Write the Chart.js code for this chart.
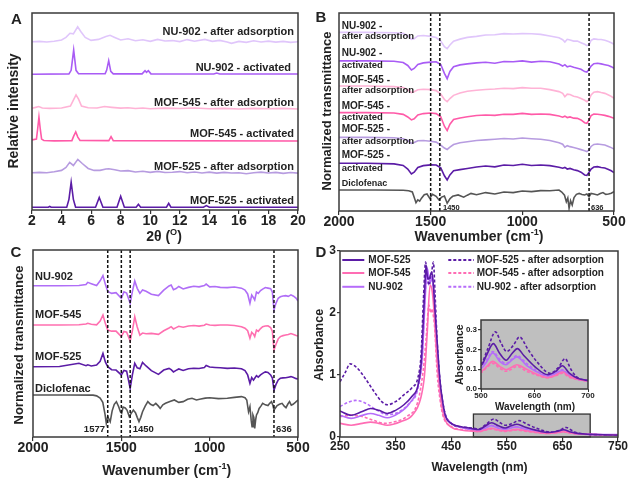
<!DOCTYPE html>
<html lang="en">
<head>
  <meta charset="UTF-8" />
  <title>MOF adsorption - PXRD, IR and UV-vis</title>
  <script src="https://cdn.jsdelivr.net/npm/chart.js"></script>
  <style>
    body { margin: 0; background: #fff; }
    #wrap { position: relative; width: 628px; height: 479px; overflow: hidden; }
    canvas { position: absolute; left: 0; top: 0; }
  </style>
</head>
<body>
<div id="wrap">
  <canvas id="chartA" width="628" height="479"></canvas>
  <canvas id="chartB" width="628" height="479"></canvas>
  <canvas id="chartC" width="628" height="479"></canvas>
  <canvas id="chartD" width="628" height="479"></canvas>
  <canvas id="chartInset" width="628" height="479"></canvas>
</div>

<script>
  // ---- A: PXRD (2theta, intensity above each trace's baseline) ----
  const aOffsets = { m525: 1.4, m525ads: 18.6, m545: 35, m545ads: 51.3, nu902: 68.9, nu902ads: 85.1 };

  const aM525X = [2,3.1,3.2,3.3,4.35,4.5,4.65,4.8,4.95,6.3,6.55,6.8,7.75,8.0,8.25,9.05,9.2,9.35,11.1,11.25,11.4,13.6,13.8,14.0,20];
  const aM525Y = [0,0,0.4,0,0,4,12.7,4,0,0,4.9,0,0,5.6,0,0,1.5,0,0,2,0,0,0.8,0,0];

  const aM525adsX = [2,2.5,3,3.5,4,4.3,4.55,4.8,5.1,5.4,5.8,6.2,6.6,7,7.2,7.6,8,8.5,9,9.5,10,10.5,11,11.5,12,12.5,13,13.5,14,14.5,15,15.5,16,16.5,17,17.5,18,18.5,19,19.5,20];
  const aM525adsY = [0.3,0.5,0.3,0.8,1.5,3,5.6,4.0,7.1,5,2.5,1.5,1.5,2.2,2.3,1.8,1.2,1.4,0.7,1.1,0.5,1,0.4,0.6,0.9,0.3,0.7,0.2,0.6,0.1,0.5,0.2,0.3,-0.2,0.3,0.6,0.2,0.5,0,0.4,0.1];

  const aM545X = [2,2.3,2.38,2.47,2.56,2.65,2.8,3.5,4.7,4.82,4.96,5.1,5.25,7.2,7.35,7.5,20];
  const aM545Y = [0.6,1,6,12.2,6,1,0.3,0.1,0.2,2.5,4.6,2,0.3,0.2,2.2,0.2,0];

  const aM545adsX = [2,2.25,2.45,2.7,3.2,4,4.6,4.8,4.98,5.15,5.35,5.8,6.4,6.9,7.4,8,8.5,9,9.5,10,11,12,13,14,15,16,17,18,19,20];
  const aM545adsY = [0.3,0.8,1.2,0.5,0.3,0.5,1.5,4.5,7.1,5,1.5,0.6,0.5,1.2,0.8,0.4,0.6,0.2,0.5,0.1,0.4,0.2,0.5,0.1,0.3,0,0.3,0.1,0.3,0];

  const aNu902X = [2,4.5,4.65,4.82,4.98,5.15,6.95,7.05,7.19,7.33,7.5,9.45,9.65,9.75,9.87,10.05,14.3,14.5,14.7,20];
  const aNu902Y = [0,0.2,2,12.3,2,0.3,0.3,2,6.9,1.5,0.2,0.2,1.8,1.0,1.8,0.2,0.1,0.6,0.1,0.1];

  const aNu902adsX = [2,2.5,3,3.5,4,4.3,4.57,4.8,5.09,5.3,5.6,6,6.5,7,7.28,7.6,8,8.5,9,9.5,10,10.5,11,11.5,12,12.5,13,13.7,14.2,14.7,15.2,15.5,16,16.5,17,17.5,18,18.5,19,19.5,20];
  const aNu902adsY = [0.3,0.5,0.2,0.6,1.2,2.5,4.6,4.3,7.9,5.5,2.5,1,1.5,3,3.6,2.5,1.2,1.8,0.8,1.3,0.5,1.5,0.7,0.9,0.4,1.4,0.6,1.5,0.5,1,0.2,-0.5,0.5,0,0.8,0.2,0.6,0.1,0.5,0,0.3];

  // ---- B: IR, MOFs before/after adsorption ----
  const bX = [2000,1850,1700,1650,1625,1605,1590,1570,1540,1500,1470,1445,1425,1410,1395,1375,1340,1300,1250,1200,1150,1100,1050,1000,950,900,850,800,780,768,755,740,720,700,680,660,648,636,625,610,590,570,550,530,515,500];
  const bNu902ads = [90.2,90.2,90.0,89.7,88.5,86.7,87.0,88.4,88.6,88.2,87.6,85.8,83.0,82.0,83.8,85.8,86.8,87.7,88.2,88.9,89.0,89.6,89.4,89.6,89.5,89.2,88.4,87.5,86.5,85.3,86.7,86.4,85.8,85.8,85.0,84.2,83.5,84.0,86.2,86.9,86.7,86.6,86.2,85.6,85.0,84.2];
  const bNu902 = [75.8,75.8,75.6,75.0,73.5,71.2,72.0,74.0,74.8,75.2,75.4,74.0,69.5,66.8,70.5,72.9,73.8,74.3,74.8,75.1,74.6,75.5,75.4,75.8,75.2,75.6,75.4,74.2,73.2,73.9,72.8,73.2,72.6,72.1,71.6,70.4,70.2,71.6,73.2,74.4,74.6,74.3,73.9,73.5,72.9,72.1];
  const bM545ads = [63.1,63.1,62.8,62.4,61.3,59.8,60.2,61.2,61.5,61.3,60.8,59.0,56.3,55.2,56.8,58.4,59.6,60.5,61.0,61.4,61.6,62.0,61.8,62.3,62.0,62.0,61.3,60.3,59.4,57.7,59.0,58.8,58.0,57.6,56.8,55.9,55.2,56.2,58.6,60.0,60.3,59.8,59.4,58.6,57.9,56.9];
  const bM545 = [49.7,49.7,49.5,48.8,47.5,46.0,46.6,48.5,49.2,49.5,49.2,47.6,42.8,40.6,43.8,46.2,47.0,47.6,48.2,48.5,48.3,48.9,48.8,49.3,48.8,49.0,48.8,48.0,47.4,47.9,47.2,47.5,46.9,46.8,46.0,44.6,44.3,46.0,48.2,49.0,48.9,48.6,48.3,47.8,47.3,46.8];
  const bM525ads = [37.2,37.2,37.0,36.5,35.6,34.2,34.6,35.5,35.6,35.2,34.8,33.3,31.8,31.1,32.3,33.6,34.5,35.0,35.6,35.9,36.2,36.6,36.4,36.9,36.5,36.2,35.6,34.5,33.7,32.2,33.0,32.5,32.1,31.6,31.0,30.4,30.0,30.8,32.6,33.6,33.8,33.6,33.3,32.6,32.0,31.3];
  const bM525 = [24.1,24.1,23.8,23.0,21.2,18.7,19.6,22.0,22.9,23.3,23.2,21.8,17.8,15.7,18.2,20.3,20.9,21.5,22.2,22.7,22.3,23.2,23.0,23.6,23.0,23.2,22.9,22.1,21.6,22.0,21.2,21.5,20.8,20.4,19.6,18.2,18.0,19.6,21.2,22.2,22.4,22.0,21.7,21.0,20.3,19.4];
  const bDicloX = [2000,1800,1650,1620,1600,1590,1580,1570,1560,1550,1535,1520,1505,1490,1470,1455,1440,1425,1410,1395,1380,1350,1320,1300,1280,1250,1200,1150,1100,1050,1000,950,900,850,800,785,770,760,752,745,737,728,718,705,690,675,660,648,636,625,610,590,575,560,545,530,515,500];
  const bDicloY = [10.6,10.6,10.5,10.2,9.6,7.0,4.2,5.6,5.0,6.5,8.2,8.6,6.4,8.4,7.4,5.6,7.0,7.6,3.9,6.2,7.4,8.1,7.0,8.0,8.9,8.2,9.3,8.6,9.6,9.3,10.1,9.8,10.3,10.2,10.6,9.6,8.0,4.7,6.6,1.4,5.2,3.0,6.8,8.4,8.9,8.3,8.1,8.6,7.2,8.9,8.6,8.1,8.8,9.3,8.4,8.6,9.0,9.8];
  const bMarks = [1500, 1450, 636];

  // ---- C: IR, MOFs after adsorption vs diclofenac ----
  const cX = [2000,1850,1740,1700,1690,1670,1640,1620,1604,1590,1577,1555,1530,1500,1485,1470,1450,1437,1424,1410,1395,1380,1360,1330,1290,1260,1230,1218,1205,1190,1175,1150,1120,1090,1060,1030,1020,1000,970,940,900,860,820,800,785,772,762,752,745,735,725,712,700,685,670,655,645,636,625,612,600,585,570,555,540,525,510,500];
  const cNu902 = [80.9,80.9,81.0,81.5,82.7,82.0,81.0,83.5,86.3,81.5,77.8,76.8,77.2,74.2,77.6,77.0,71.5,78.0,83.4,79.5,76.8,78.6,77.9,76.3,75.6,78.5,80.8,81.3,78.8,79.4,80.5,79.2,80.0,80.6,80.3,81.0,81.8,80.3,80.5,80.0,79.9,80.2,79.6,78.6,76.5,71.5,75.9,74.5,73.3,77.5,76.8,78.3,79.1,79.9,79.6,79.3,77.5,67.9,71.5,74.2,75.0,75.4,75.6,75.2,76.0,75.3,74.2,72.7];
  const cM545 = [59.9,59.9,60.0,60.4,60.8,60.3,60.0,62.0,65.2,60.5,57.2,56.6,56.6,53.7,56.4,56.0,51.3,57.0,64.3,58.8,54.5,55.6,55.2,55.4,54.9,56.8,58.3,59.0,57.8,58.5,59.2,58.7,59.4,59.6,59.3,59.8,60.4,59.9,59.7,59.9,59.9,59.6,59.0,58.2,56.8,52.8,56.0,55.0,53.7,57.2,56.5,58.0,59.0,59.4,59.5,58.5,56.5,46.5,49.5,52.5,53.7,54.2,54.5,54.8,55.3,54.8,54.3,54.0];
  const cM525 = [37.6,37.7,39.4,38.1,38.6,38.0,38.5,40.5,44.7,40.0,37.6,36.0,35.8,33.2,35.6,35.2,26.0,33.5,39.4,37.0,36.5,39.9,38.0,35.5,33.5,35.8,36.7,36.0,34.8,35.6,36.4,35.6,36.5,36.8,36.6,37.2,38.2,37.4,37.2,37.0,36.7,36.9,36.5,35.5,33.2,28.7,31.8,30.4,31.4,32.8,32.0,33.2,34.0,34.8,34.5,33.2,31.5,25.1,28.0,30.5,31.4,31.6,31.7,32.0,32.3,31.8,31.2,31.0];
  const cDicloX = [2000,1800,1660,1640,1620,1605,1592,1585,1577,1570,1563,1552,1540,1528,1515,1505,1498,1490,1478,1468,1455,1445,1432,1420,1410,1400,1390,1380,1365,1350,1335,1320,1305,1290,1280,1265,1250,1225,1200,1175,1150,1125,1100,1075,1050,1025,1000,950,900,860,820,800,790,780,772,765,760,755,750,745,740,735,728,720,710,700,685,670,660,650,642,636,628,618,605,590,578,568,558,548,538,528,515,500];
  const cDicloY = [22.5,22.5,22.4,22.0,20.8,18.5,12.0,7.3,10.9,9.5,8.2,14.0,17.5,18.9,16.2,13.5,12.7,16.0,15.5,14.4,10.9,12.5,14.4,13.0,10.5,8.2,10.5,13.5,16.5,18.9,17.5,16.8,18.0,16.5,15.3,17.2,18.0,19.0,19.8,18.5,18.9,20.2,20.7,19.8,20.3,20.8,21.0,20.5,20.7,21.2,21.6,21.0,19.8,13.5,16.2,9.0,5.5,11.8,10.5,4.6,9.0,11.8,13.0,15.3,16.5,18.0,17.2,16.8,18.0,18.9,17.0,14.4,15.5,16.8,17.5,18.0,16.5,15.7,17.5,18.9,17.0,17.5,18.5,19.8];
  const cMarks = [1577, 1500, 1450, 636];

  // ---- D: UV-vis absorbance ----
  const d525X = [250,270,290,305,320,335,350,365,380,390,396,400,403,405,407,410,413,415,418,421,425,430,435,440,450,460,470,480,490,500,510,523,535,547,558,568,580,600,625,640,652,665,680,700,725,750];
  const d525Y = [0.42,0.35,0.41,0.46,0.43,0.38,0.43,0.52,0.66,0.82,1.2,1.9,2.5,2.77,2.6,2.55,2.62,2.66,2.45,2.02,1.5,0.89,0.55,0.33,0.22,0.18,0.16,0.15,0.13,0.12,0.17,0.23,0.18,0.146,0.18,0.205,0.17,0.115,0.072,0.09,0.118,0.08,0.055,0.043,0.035,0.03];
  const d545X = [250,270,290,305,320,335,360,380,395,402,407,412,416,420,424,428,433,438,450,470,490,500,511,522,535,547,557,567,585,600,625,640,652,665,680,700,725,750];
  const d545Y = [0.22,0.19,0.22,0.24,0.22,0.19,0.25,0.35,0.62,1.0,1.7,2.45,2.34,1.91,1.3,0.89,0.5,0.3,0.16,0.11,0.095,0.09,0.115,0.14,0.115,0.098,0.11,0.123,0.1,0.08,0.058,0.07,0.086,0.065,0.05,0.042,0.035,0.03];
  const d902X = [250,270,290,305,320,335,355,375,390,398,403,407,410,413,416,419,422,426,432,440,450,465,480,500,511,522,535,547,557,567,585,600,625,640,652,665,680,700,725,750];
  const d902Y = [0.35,0.3,0.35,0.38,0.35,0.31,0.38,0.54,0.81,1.3,2.2,2.72,2.55,2.5,2.6,2.3,1.9,1.2,0.6,0.33,0.22,0.16,0.13,0.105,0.14,0.183,0.14,0.123,0.145,0.163,0.12,0.094,0.065,0.08,0.093,0.068,0.05,0.042,0.04,0.04];
  const d525adsX = [250,260,268,280,295,310,325,335,350,365,380,390,396,400,404,407,410,414,418,421,425,430,435,440,450,460,470,480,490,500,512,527,538,548,560,572,588,604,629,645,657,668,678,700,725,750];
  const d525adsY = [0.89,1.05,1.18,1.12,0.95,0.75,0.57,0.52,0.57,0.68,0.8,0.95,1.35,2.2,2.82,2.6,2.45,2.6,2.82,2.3,1.5,0.9,0.55,0.35,0.22,0.17,0.16,0.15,0.14,0.13,0.2,0.29,0.23,0.19,0.22,0.264,0.2,0.14,0.08,0.11,0.154,0.1,0.063,0.043,0.035,0.03];
  const d545adsX = [250,270,290,310,330,350,370,390,400,405,410,413,415,418,420,425,430,435,450,470,490,500,511,522,535,547,557,567,585,600,625,640,652,665,680,700,725,750];
  const d545adsY = [0.33,0.35,0.33,0.27,0.22,0.25,0.33,0.57,1.1,1.6,2.13,2.0,2.07,1.95,1.8,1.0,0.6,0.35,0.17,0.12,0.1,0.085,0.11,0.13,0.105,0.09,0.1,0.115,0.09,0.075,0.057,0.068,0.08,0.06,0.048,0.04,0.035,0.03];
  const d902adsX = [250,265,278,295,315,335,355,375,390,398,403,407,410,414,418,421,426,432,440,450,465,480,500,511,522,535,547,557,567,585,600,625,640,652,665,680,700,725,750];
  const d902adsY = [0.49,0.56,0.59,0.55,0.44,0.36,0.4,0.55,0.78,1.3,2.3,2.6,2.45,2.55,2.4,1.9,1.2,0.6,0.33,0.22,0.16,0.13,0.11,0.15,0.19,0.15,0.13,0.15,0.17,0.13,0.1,0.067,0.08,0.098,0.07,0.05,0.043,0.035,0.03];
  const dZoomBox = { x0: 490, x1: 700, y0: 0, y1: 0.37 };

  // colours
  const C525 = "#5b1ca6", C525ads = "#b79ce0";
  const C545 = "#ff5aa8", C545ads = "#ffb3d6";
  const C902 = "#a95cf5", C902ads = "#e0c6fb";
  const CDICLO = "#555555";

  const SANS = '"Liberation Sans", Arial, Helvetica, sans-serif';
  const AXW = 20, AXH = 20;
  Chart.defaults.font.family = SANS;
  Chart.defaults.color = "#222";

  function pts(xs, ys, off) {
    return xs.map((x, i) => ({ x: x, y: ys[i] + (off || 0) }));
  }

  function line(label, data, color, dash) {
    return {
      label: label, data: data, borderColor: color, backgroundColor: color,
      borderWidth: 1.6, pointRadius: 0, tension: 0, fill: false,
      borderDash: dash ? [3, 2] : []
    };
  }

  function drawText(ctx, t) {
    const parts = t.parts || [[t.text]];
    const size = t.size || 12;
    const f = s => "bold " + s + "px " + SANS;
    let w = 0;
    parts.forEach(p => { ctx.font = f(p[1] ? size * 0.65 : size); w += ctx.measureText(p[0]).width; });
    ctx.save();
    ctx.translate(t.x, t.y);
    if (t.rot) ctx.rotate(t.rot);
    ctx.fillStyle = t.color || "#222";
    ctx.textBaseline = "middle";
    ctx.textAlign = "left";
    let x = t.align === "left" ? 0 : t.align === "right" ? -w : -w / 2;
    parts.forEach(p => {
      const s = p[1] ? size * 0.65 : size;
      ctx.font = f(s);
      ctx.fillText(p[0], x, p[1] ? -size * 0.33 : 0);
      x += ctx.measureText(p[0]).width;
    });
    ctx.restore();
  }

  function deco(cfg) {
    return {
      id: "deco",
      beforeDatasetsDraw(chart) {
        if (cfg.under) cfg.under(chart);
      },
      afterDatasetsDraw(chart) {
        const ctx = chart.ctx, a = chart.chartArea;
        ctx.save();
        (cfg.marks || []).forEach(v => {
          const x = chart.scales.x.getPixelForValue(v);
          ctx.strokeStyle = "#111"; ctx.lineWidth = 1.5; ctx.setLineDash([3, 2]);
          ctx.beginPath(); ctx.moveTo(x, a.top); ctx.lineTo(x, a.bottom); ctx.stroke();
        });
        ctx.setLineDash([]);
        ctx.strokeStyle = "#3a3a3a"; ctx.lineWidth = 1.5;
        ctx.strokeRect(a.left, a.top, a.right - a.left, a.bottom - a.top);
        if (cfg.over) cfg.over(chart);
        (cfg.texts || []).forEach(t => drawText(ctx, t));
        ctx.restore();
      }
    };
  }

  function xAxis(min, max, step, size, extra) {
    return Object.assign({
      type: "linear", min: min, max: max,
      ticks: { stepSize: step, autoSkip: false, maxRotation: 0, minRotation: 0, padding: 0,
               font: { size: size, weight: "bold", lineHeight: 1 }, color: "#222",
               callback: v => String(v) },
      grid: { display: true, drawOnChartArea: false, drawTicks: true, tickLength: 4, color: "#333", lineWidth: 1.2 },
      border: { display: false },
      afterFit: s => { s.height = AXH; }
    }, extra || {});
  }

  function hiddenY(min, max) {
    return {
      min: min, max: max, display: true,
      ticks: { display: false }, grid: { display: false }, border: { display: false },
      afterFit: s => { s.width = AXW; }
    };
  }

  function makeChart(id, area, datasets, scales, decoCfg) {
    return new Chart(document.getElementById(id), {
      type: "line",
      data: { datasets: datasets },
      options: {
        responsive: false, animation: false, devicePixelRatio: 1,
        layout: { padding: { left: area.l - AXW, top: area.t, right: 628 - area.r, bottom: 479 - area.b - AXH } },
        plugins: { legend: { display: false }, tooltip: { enabled: false } },
        events: [],
        scales: scales
      },
      plugins: [deco(decoCfg)]
    });
  }

  // ---------- Panel A ----------
  makeChart("chartA", { l: 32, r: 298, t: 13, b: 210 }, [
    line("NU-902 - after adsorption", pts(aNu902adsX, aNu902adsY, aOffsets.nu902ads), C902ads),
    line("NU-902 - activated", pts(aNu902X, aNu902Y, aOffsets.nu902), C902),
    line("MOF-545 - after adsorption", pts(aM545adsX, aM545adsY, aOffsets.m545ads), C545ads),
    line("MOF-545 - activated", pts(aM545X, aM545Y, aOffsets.m545), C545),
    line("MOF-525 - after adsorption", pts(aM525adsX, aM525adsY, aOffsets.m525ads), C525ads),
    line("MOF-525 - activated", pts(aM525X, aM525Y, aOffsets.m525), C525)
  ], { x: xAxis(2, 20, 2, 14), y: hiddenY(0, 100) }, {
    texts: [
      { text: "A", x: 16.5, y: 19.5, size: 15 },
      { text: "Relative intensity", x: 14.5, y: 111, size: 14, rot: -Math.PI / 2 },
      { parts: [["2θ ("], ["O", 1], [")"]], x: 164, y: 237, size: 14 },
      { text: "NU-902 - after adsorption", x: 294, y: 31.7, size: 11, align: "right" },
      { text: "NU-902 - activated", x: 291, y: 67.7, size: 11, align: "right" },
      { text: "MOF-545 - after adsorption", x: 294, y: 102.7, size: 11, align: "right" },
      { text: "MOF-545 - activated", x: 294, y: 134, size: 11, align: "right" },
      { text: "MOF-525 - after adsorption", x: 294, y: 167.3, size: 11, align: "right" },
      { text: "MOF-525 - activated", x: 294, y: 201, size: 11, align: "right" }
    ]
  });

  // ---------- Panel B ----------
  makeChart("chartB", { l: 339, r: 614, t: 13, b: 211 }, [
    line("NU-902 - after adsorption", pts(bX, bNu902ads), C902ads),
    line("NU-902 - activated", pts(bX, bNu902), C902),
    line("MOF-545 - after adsorption", pts(bX, bM545ads), C545ads),
    line("MOF-545 - activated", pts(bX, bM545), C545),
    line("MOF-525 - after adsorption", pts(bX, bM525ads), C525ads),
    line("MOF-525 - activated", pts(bX, bM525), C525),
    line("Diclofenac", pts(bDicloX, bDicloY), CDICLO)
  ], { x: xAxis(500, 2000, 500, 14, { reverse: true }), y: hiddenY(0, 100) }, {
    marks: bMarks,
    texts: [
      { text: "B", x: 320.8, y: 18.3, size: 15 },
      { text: "Normalized transmittance", x: 327.3, y: 111, size: 13, rot: -Math.PI / 2 },
      { parts: [["Wavenumber (cm"], ["-1", 1], [")"]], x: 479, y: 237.5, size: 14 },
      { text: "NU-902 -", x: 341.7, y: 26, size: 10, align: "left" },
      { text: "after adsorption", x: 341.7, y: 36.7, size: 9.5, align: "left" },
      { text: "NU-902 -", x: 341.7, y: 53.3, size: 10, align: "left" },
      { text: "activated", x: 341.7, y: 65, size: 9.5, align: "left" },
      { text: "MOF-545 -", x: 341.7, y: 80, size: 10, align: "left" },
      { text: "after adsorption", x: 341.7, y: 90.7, size: 9.5, align: "left" },
      { text: "MOF-545 -", x: 341.7, y: 106, size: 10, align: "left" },
      { text: "activated", x: 341.7, y: 117.3, size: 9.5, align: "left" },
      { text: "MOF-525 -", x: 341.7, y: 129.3, size: 10, align: "left" },
      { text: "after adsorption", x: 341.7, y: 141.7, size: 9.5, align: "left" },
      { text: "MOF-525 -", x: 341.7, y: 155, size: 10, align: "left" },
      { text: "activated", x: 341.7, y: 168.3, size: 9.5, align: "left" },
      { text: "Diclofenac", x: 341.7, y: 183.3, size: 9, align: "left" },
      { text: "1450", x: 443, y: 208, size: 7.5, align: "left" },
      { text: "636", x: 591, y: 208, size: 7.5, align: "left" }
    ]
  });

  // ---------- Panel C ----------
  makeChart("chartC", { l: 33, r: 298, t: 250, b: 437 }, [
    line("NU-902", pts(cX, cNu902), "#b06ef7"),
    line("MOF-545", pts(cX, cM545), "#ff6fb0"),
    line("MOF-525", pts(cX, cM525), C525),
    line("Diclofenac", pts(cDicloX, cDicloY), CDICLO)
  ], { x: xAxis(500, 2000, 500, 14, { reverse: true }), y: hiddenY(0, 100) }, {
    marks: cMarks,
    texts: [
      { text: "C", x: 15.8, y: 252.5, size: 15 },
      { text: "Normalized transmittance", x: 19, y: 345, size: 13, rot: -Math.PI / 2 },
      { parts: [["Wavenumber (cm"], ["-1", 1], [")"]], x: 166.7, y: 471, size: 14 },
      { text: "NU-902", x: 35, y: 277, size: 11, align: "left" },
      { text: "MOF-545", x: 35, y: 315, size: 11, align: "left" },
      { text: "MOF-525", x: 35, y: 357, size: 11, align: "left" },
      { text: "Diclofenac", x: 35, y: 389, size: 11, align: "left" },
      { text: "1577", x: 105, y: 429, size: 9.5, align: "right" },
      { text: "1450", x: 132.7, y: 429, size: 9.5, align: "left" },
      { text: "636", x: 276, y: 429, size: 9.5, align: "left" }
    ]
  });

  // ---------- Panel D ----------
  const dSets = () => [
    line("MOF-525", pts(d525X, d525Y), C525),
    line("MOF-545", pts(d545X, d545Y), "#ff6db4"),
    line("NU-902", pts(d902X, d902Y), "#b66cfa"),
    line("MOF-525 - after adsorption", pts(d525adsX, d525adsY), C525, true),
    line("MOF-545 - after adsorption", pts(d545adsX, d545adsY), "#ff6db4", true),
    line("NU-902 - after adsorption", pts(d902adsX, d902adsY), "#b66cfa", true)
  ].map(d => Object.assign(d, { cubicInterpolationMode: "monotone" }));

  function yAxis(min, max, step, size, tl, extra) {
    return Object.assign({
      min: min, max: max,
      ticks: { stepSize: step, padding: 1, font: { size: size, weight: "bold", lineHeight: 1 }, color: "#222" },
      grid: { display: true, drawOnChartArea: false, drawTicks: true, tickLength: tl, color: "#333", lineWidth: 1.2 },
      border: { display: false },
      afterFit: s => { s.width = AXW; }
    }, extra || {});
  }

  makeChart("chartD", { l: 340, r: 619, t: 251, b: 437 }, dSets(), {
    x: xAxis(250, 750, 100, 12),
    y: yAxis(0, 3, 1, 12, 3)
  }, {
    under(chart) {
      const ctx = chart.ctx, sx = chart.scales.x, sy = chart.scales.y;
      const x0 = sx.getPixelForValue(dZoomBox.x0), x1 = sx.getPixelForValue(dZoomBox.x1);
      const y0 = sy.getPixelForValue(dZoomBox.y0), y1 = sy.getPixelForValue(dZoomBox.y1);
      ctx.save();
      ctx.fillStyle = "#bfbfbf"; ctx.fillRect(x0, y1, x1 - x0, y0 - y1);
      ctx.strokeStyle = "#333"; ctx.lineWidth = 1.3; ctx.strokeRect(x0, y1, x1 - x0, y0 - y1);
      ctx.restore();
    },
    over(chart) {
      const ctx = chart.ctx;
      const rows = [260, 273, 286.8];
      chart.data.datasets.forEach((ds, i) => {
        const col = i < 3 ? 0 : 1, y = rows[i % 3];
        const x0 = col ? 448.3 : 342.3, x1 = col ? 474 : 364.3, tx = col ? 476.7 : 368.3;
        ctx.save();
        ctx.strokeStyle = ds.borderColor; ctx.lineWidth = 2; ctx.setLineDash(ds.borderDash);
        ctx.beginPath(); ctx.moveTo(x0, y); ctx.lineTo(x1, y); ctx.stroke();
        ctx.restore();
        drawText(ctx, { text: ds.label, x: tx, y: y, size: 10, align: "left" });
      });
    },
    texts: [
      { text: "D", x: 320.8, y: 252.5, size: 15 },
      { text: "Absorbance", x: 320, y: 345, size: 12.5, rot: -Math.PI / 2 },
      { text: "Wavelength (nm)", x: 479.5, y: 468, size: 12 }
    ]
  });

  // ---------- Inset of D ----------
  makeChart("chartInset", { l: 481, r: 588, t: 320, b: 389 }, dSets(), {
    x: xAxis(500, 700, 100, 8, { grid: { display: true, drawOnChartArea: false, drawTicks: true, tickLength: 3, color: "#333", lineWidth: 1 } }),
    y: yAxis(0, 0.35, 0.1, 8, 3, { ticks: { stepSize: 0.1, includeBounds: false, padding: 1,
         font: { size: 8, weight: "bold", lineHeight: 1 }, color: "#222", callback: v => v.toFixed(1) } })
  }, {
    under(chart) {
      const a = chart.chartArea, ctx = chart.ctx;
      ctx.save(); ctx.fillStyle = "#bfbfbf";
      ctx.fillRect(a.left, a.top, a.right - a.left, a.bottom - a.top);
      ctx.restore();
    },
    texts: [
      { text: "Absorbance", x: 460, y: 354.7, size: 10.5, rot: -Math.PI / 2 },
      { text: "Wavelength (nm)", x: 535, y: 407.5, size: 10 }
    ]
  });
</script>
</body>
</html>
